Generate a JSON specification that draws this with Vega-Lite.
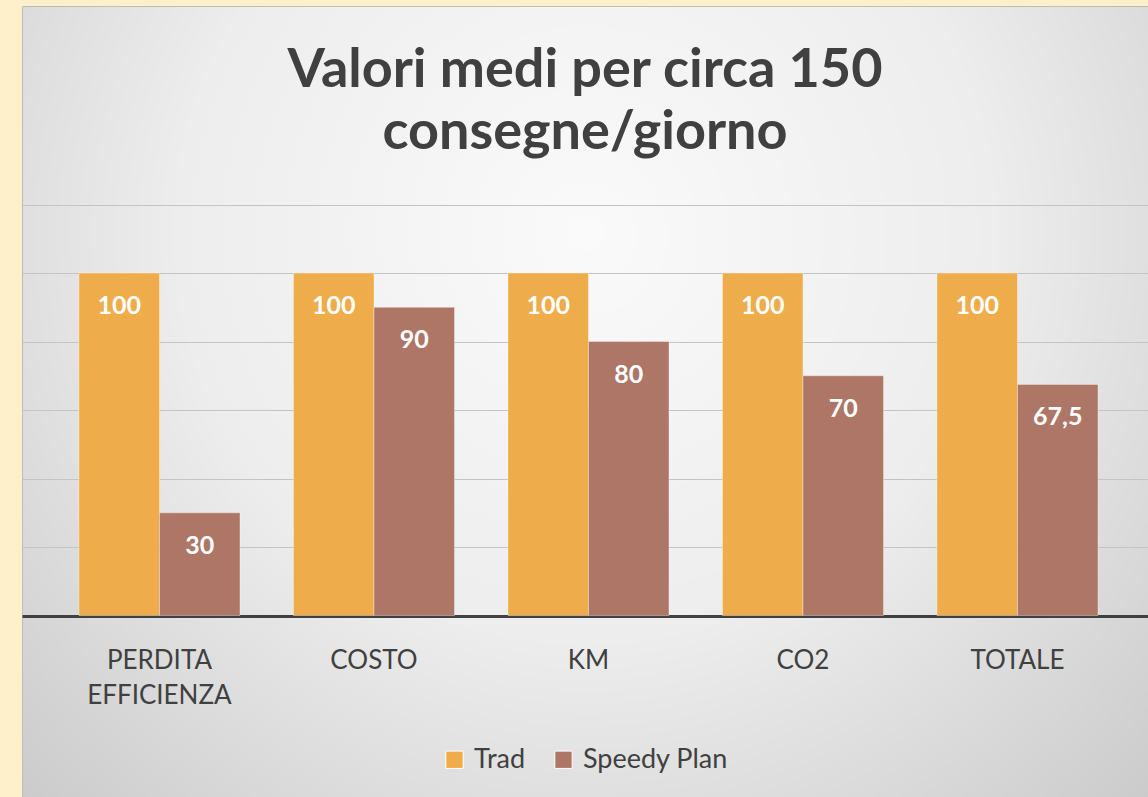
{
  "$schema": "https://vega.github.io/schema/vega-lite/v6.json",
  "autosize": {"type": "fit", "contains": "padding"},
  "width": 1148,
  "height": 797,
  "padding": {"left": 22, "top": 6, "right": 0, "bottom": 0},
  "background": "#FDF0CB",
  "config": {"font": "Lato"},
  "view": {
    "fill": {
      "gradient": "radial",
      "x1": 0.5, "y1": 0.35, "r1": 0,
      "x2": 0.5, "y2": 0.35, "r2": 0.8,
      "stops": [
        {"offset": 0, "color": "#FAFAFA"},
        {"offset": 0.45, "color": "#EDEDED"},
        {"offset": 1, "color": "#C2C2C2"}
      ]
    },
    "stroke": "#BDBDBD",
    "strokeWidth": 1
  },
  "title": {
    "text": ["Valori medi per circa 150", "consegne/giorno"],
    "font": "Lato",
    "fontSize": 54,
    "fontWeight": "bold",
    "color": "#404040",
    "lineHeight": 62,
    "anchor": "middle",
    "offset": -154
  },
  "data": {"values": [
      {"categoria": "PERDITA EFFICIENZA", "serie": "Trad", "valore": 100, "etichetta": "100"},
      {"categoria": "PERDITA EFFICIENZA", "serie": "Speedy Plan", "valore": 30, "etichetta": "30"},
      {"categoria": "COSTO", "serie": "Trad", "valore": 100, "etichetta": "100"},
      {"categoria": "COSTO", "serie": "Speedy Plan", "valore": 90, "etichetta": "90"},
      {"categoria": "KM", "serie": "Trad", "valore": 100, "etichetta": "100"},
      {"categoria": "KM", "serie": "Speedy Plan", "valore": 80, "etichetta": "80"},
      {"categoria": "CO2", "serie": "Trad", "valore": 100, "etichetta": "100"},
      {"categoria": "CO2", "serie": "Speedy Plan", "valore": 70, "etichetta": "70"},
      {"categoria": "TOTALE", "serie": "Trad", "valore": 100, "etichetta": "100"},
      {"categoria": "TOTALE", "serie": "Speedy Plan", "valore": 67.5, "etichetta": "67,5"}
  ]},
  "layer": [
    {
      "mark": {"type": "bar", "stroke": "#FFFFFF", "strokeOpacity": 0.35, "strokeWidth": 1},
      "encoding": {
        "x": {
          "field": "categoria",
          "type": "nominal",
          "scale": {
            "domain": ["PERDITA EFFICIENZA", "COSTO", "KM", "CO2", "TOTALE"],
            "paddingInner": 0,
            "paddingOuter": 0.1247,
            "align": 0.565
          },
          "axis": {
            "orient": "bottom",
            "offset": -182,
            "title": null,
            "domain": false,
            "ticks": false,
            "labelAngle": 0,
            "labelFont": "Lato",
            "labelFontSize": 26,
            "labelColor": "#404040",
            "labelPadding": 32,
            "labelBaseline": "top",
            "labelLineHeight": 35,
            "labelExpr": "split(datum.label, ' ')"
          }
        },
        "xOffset": {
          "field": "serie",
          "type": "nominal",
          "scale": {"domain": ["Trad", "Speedy Plan"], "paddingInner": 0, "paddingOuter": 0.332}
        },
        "y": {
          "field": "valore",
          "type": "quantitative",
          "scale": {"domain": [-53, 178], "nice": false, "zero": false},
          "axis": {
            "values": [0, 20, 40, 60, 80, 100, 120],
            "labels": false,
            "ticks": false,
            "domain": false,
            "title": null,
            "grid": true,
            "gridColor": {"condition": {"test": "datum.value === 0", "value": "#404040"}, "value": "#C4C4C4"},
            "gridWidth": {"condition": {"test": "datum.value === 0", "value": 3}, "value": 1}
          }
        },
        "color": {
          "field": "serie",
          "type": "nominal",
          "scale": {"domain": ["Trad", "Speedy Plan"], "range": ["#EEAC4A", "#AE7666"]},
          "legend": {
            "orient": "none",
            "legendX": 419,
            "legendY": 740,
            "direction": "horizontal",
            "title": null,
            "symbolType": "square",
            "symbolSize": 300,
            "symbolStrokeColor": "#FFFFFF",
            "symbolStrokeWidth": 1,
            "labelFont": "Lato",
            "labelFontSize": 27,
            "labelColor": "#404040",
            "labelOffset": 6,
            "columnPadding": 24
          }
        }
      }
    },
    {
      "mark": {"type": "text", "color": "#FFFFFF", "font": "Lato", "fontWeight": "bold", "fontSize": 25, "baseline": "middle", "dy": 33},
      "encoding": {
        "x": {"field": "categoria", "type": "nominal"},
        "xOffset": {"field": "serie", "type": "nominal"},
        "y": {"field": "valore", "type": "quantitative"},
        "text": {"field": "etichetta", "type": "nominal"}
      }
    }
  ]
}
